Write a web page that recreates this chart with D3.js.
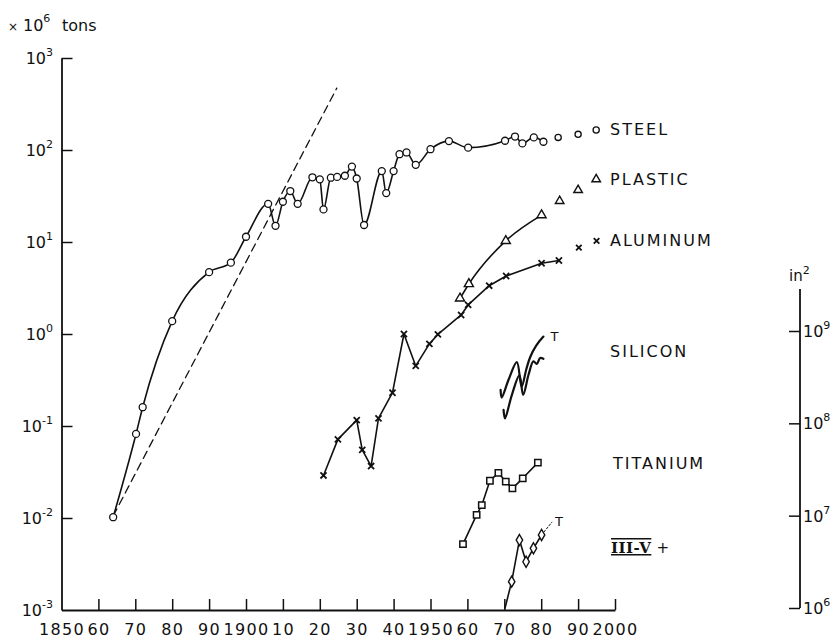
<!DOCTYPE html>
<html><head><meta charset="utf-8">
<script src="https://cdn.jsdelivr.net/npm/d3@7"></script>
<style>
body{margin:0;background:#fff}
svg{display:block;background:#fff}
text{font-family:"DejaVu Sans",sans-serif;fill:#111}
</style>
</head><body>
<svg id="chart" width="839" height="640"></svg>
<script>
// ---------- data ----------
const xTicks = [1850,1860,1870,1880,1890,1900,1910,1920,1930,1940,1950,1960,1970,1980,1990,2000];
const xTickLabels = ["1850","60","70","80","90","1900","10","20","30","40","1950","60","70","80","90","2000"];
const leftTicks = [1e-3,1e-2,1e-1,1e0,1e1,1e2,1e3];
const leftExp = ["-3","-2","-1","0","1","2","3"];
const rightTicks = [1e6,1e7,1e8,1e9];
const rightExp = ["6","7","8","9"];

const steelYears  = [1864,1870.2,1872,1880,1890,1895.9,1900,1906,1908,1910,1912,1914,1918,1920,1921,1923,1924.7,1926.8,1928.7,1930,1932,1936.8,1938,1940,1941.6,1943.5,1946,1950,1955,1960.2,1970.2,1972.9,1974.9,1978,1980.6];
const steelValues = [0.0102,0.082,0.16,1.38,4.7,5.96,11.4,26,15,27.4,35.8,26,50.5,48,22.6,50,51,52.5,66,49,15.3,59,34,59,90,94,69,102,125,106,126,140,118,137,123];
const steelProjYears  = [1984.6,1990,1994.9];
const steelProjValues = [137,148,165];

const plasticYears  = [1958,1960.4,1970.4,1980.1];
const plasticValues = [2.44,3.5,10.3,19.6];
const plasticProjYears  = [1985,1990,1994.9];
const plasticProjValues = [27.9,36.7,48];

const aluminumYears  = [1921,1924.9,1930,1931.5,1933.9,1935.9,1939.7,1942.8,1946,1949.7,1952,1958.3,1960.2,1965.9,1970.5,1980.1,1984.8];
const aluminumValues = [0.029,0.0716,0.116,0.055,0.0367,0.121,0.23,1.0,0.45,0.78,0.99,1.61,2.07,3.35,4.27,5.87,6.3];
const aluminumProjYears  = [1990.2,1995];
const aluminumProjValues = [8.7,10.3];

const titaniumYears  = [1958.8,1962.5,1963.9,1966.1,1968.4,1970.4,1972.2,1975,1979.1];
const titaniumValues = [0.0052,0.0108,0.0138,0.0254,0.031,0.0248,0.021,0.027,0.040];

// silicon and III-V in square inches (right axis)
const siliconTYears  = [1969.0,1969.3,1971.2,1973.4,1974.7,1976.0,1977.0,1978.6,1980.6];
const siliconTValues = [2.3e8,1.9e8,3.0e8,4.6e8,2.5e8,3.9e8,5.2e8,6.9e8,8.7e8];
const siliconYears   = [1969.8,1970.2,1972.0,1974.1,1975.1,1976.6,1977.9,1978.8,1979.7,1980.6];
const siliconValues  = [1.4e8,1.13e8,2.0e8,3.3e8,2.03e8,3.4e8,4.7e8,4.4e8,5.1e8,5.0e8];

const iiivYears  = [1970.2,1972,1974.1,1975.9,1977.9,1980.1];
const iiivValues = [1.0e6,1.93e6,5.44e6,3.17e6,4.43e6,6.18e6];
const iiivMarked = [false,true,true,true,true,true];
const iiivTrendYears  = [1980.1,1982.9];
const iiivTrendValues = [6.18e6,8.5e6];

const trendYears  = [1864,1924.6];
const trendValues = [0.0105,470];

const seriesLabels = ["STEEL","PLASTIC","ALUMINUM","SILICON","TITANIUM"];

// ---------- scales ----------
const svg = d3.select("#chart");
const x  = d3.scaleLinear().domain([1850,2000]).range([61.5,615]);
const yL = d3.scaleLog().domain([1e-3,1e3]).range([610,58]);
const yR = d3.scaleLog().domain([1e6,1e9]).range([608,331]);

const ink = "#111";

// ---------- axes ----------
const gx = svg.append("g").attr("transform","translate(0,610)")
  .call(d3.axisBottom(x).tickValues(xTicks).tickSize(-11).tickSizeOuter(0).tickPadding(14)
        .tickFormat((d,i)=>xTickLabels[i]));
gx.select(".domain").attr("stroke",ink).attr("stroke-width",1.8);
gx.selectAll(".tick line").attr("stroke",ink).attr("stroke-width",1.5);
gx.selectAll(".tick line").filter(d=>d===1850).remove();
gx.selectAll(".tick text").attr("font-size",16).attr("font-family","DejaVu Sans").attr("letter-spacing",1.3)
  .attr("fill",ink).attr("dy","0.71em");

const gl = svg.append("g").attr("transform","translate(61.5,0)")
  .call(d3.axisLeft(yL).tickValues(leftTicks).tickSize(-11).tickSizeOuter(0).tickFormat(""));
gl.select(".domain").attr("stroke",ink).attr("stroke-width",1.8);
gl.selectAll(".tick line").attr("stroke",ink).attr("stroke-width",1.5);
gl.selectAll(".tick line").filter(d=>d===1e-3).remove();

const lt = svg.append("g").selectAll("text").data(leftTicks).join("text")
  .attr("text-anchor","end").attr("x",53).attr("y",d=>yL(d)+5.5).attr("font-size",16);
lt.append("tspan").text("10");
lt.append("tspan").attr("dy",-8).attr("font-size",11).text((d,i)=>leftExp[i]);

const gr = svg.append("g").attr("transform","translate(800,0)")
  .call(d3.axisLeft(yR).tickValues(rightTicks).tickSize(11).tickSizeOuter(0).tickFormat(""));
gr.select(".domain").remove();
gr.selectAll(".tick line").attr("stroke",ink).attr("stroke-width",1.5);
svg.append("line").attr("x1",800).attr("x2",800).attr("y1",yR(1e6)).attr("y2",yR(1e6)-319)
  .attr("stroke",ink).attr("stroke-width",1.8);
const rt = svg.append("g").selectAll("text").data(rightTicks).join("text")
  .attr("x",803).attr("y",d=>yR(d)+6).attr("font-size",16);
rt.append("tspan").text("10");
rt.append("tspan").attr("dy",-8).attr("font-size",11).text((d,i)=>rightExp[i]);

const inl = svg.append("text").attr("x",789).attr("y",281).attr("font-size",15);
inl.append("tspan").text("in");
inl.append("tspan").attr("dy",-7).attr("font-size",11).text("2");

const unit = svg.append("text").attr("x",8).attr("y",31).attr("font-size",16);
unit.append("tspan").attr("font-size",12).text("×");
unit.append("tspan").attr("x",23).text("10");
unit.append("tspan").attr("dy",-9).attr("font-size",11).text("6");
unit.append("tspan").attr("x",62).attr("dy",9).text("tons");

// ---------- helpers ----------
function pts(xs,vs){ return xs.map((d,i)=>[d,vs[i]]); }
function drawLine(data, yS, opts={}){
  const line = d3.line().x(d=>x(d[0])).y(d=>yS(d[1])).curve(opts.curve||d3.curveMonotoneX);
  svg.append("path").datum(data).attr("d",line).attr("fill","none").attr("stroke",ink)
     .attr("stroke-width",opts.w||1.6).attr("stroke-dasharray",opts.dash||null)
     .attr("stroke-linejoin","round").attr("stroke-linecap","round");
}
function drawSymbols(data, yS, type, size, fill, sw){
  svg.append("g").selectAll("path").data(data).join("path")
    .attr("transform",d=>`translate(${x(d[0])},${yS(d[1])})`)
    .attr("d",d3.symbol().type(type).size(size))
    .attr("fill",fill).attr("stroke",ink).attr("stroke-width",sw||1.4);
}

// ---------- marks ----------
drawLine(pts(trendYears,trendValues), yL, {curve:d3.curveLinear, dash:"8,5", w:1.3});

// steel
drawLine(pts(steelYears,steelValues), yL);
svg.append("g").selectAll("circle").data(pts(steelYears,steelValues)).join("circle")
  .attr("cx",d=>x(d[0])).attr("cy",d=>yL(d[1])).attr("r",3.5)
  .attr("fill","#fff").attr("stroke",ink).attr("stroke-width",1.3);
svg.append("g").selectAll("circle").data(pts(steelProjYears,steelProjValues)).join("circle")
  .attr("cx",d=>x(d[0])).attr("cy",d=>yL(d[1])).attr("r",3.1)
  .attr("fill","#fff").attr("stroke",ink).attr("stroke-width",1.3);

// plastic
drawLine(pts(plasticYears,plasticValues), yL);
drawSymbols(pts(plasticYears,plasticValues), yL, d3.symbolTriangle, 36, "#fff");
drawSymbols(pts(plasticProjYears,plasticProjValues), yL, d3.symbolTriangle, 32, "#fff");

// aluminum
drawLine(pts(aluminumYears,aluminumValues), yL, {curve:d3.curveLinear});
drawSymbols(pts(aluminumYears,aluminumValues), yL, d3.symbolX, 26, "none", 1.8);
drawSymbols(pts(aluminumProjYears,aluminumProjValues), yL, d3.symbolX, 22, "none", 1.8);

// silicon
drawLine(pts(siliconTYears,siliconTValues), yR, {curve:d3.curveCatmullRom, w:2.2});
drawLine(pts(siliconYears,siliconValues), yR, {curve:d3.curveCatmullRom, w:2.2});
svg.append("text").attr("x",x(1980.6)+7).attr("y",yR(8.7e8)+4).attr("font-size",13).text("T");

// titanium
drawLine(pts(titaniumYears,titaniumValues), yL, {curve:d3.curveLinear});
drawSymbols(pts(titaniumYears,titaniumValues), yL, d3.symbolSquare, 40, "#fff", 1.5);

// III-V
drawLine(pts(iiivYears,iiivValues), yR, {curve:d3.curveLinear});
drawLine(pts(iiivTrendYears,iiivTrendValues), yR, {curve:d3.curveLinear, dash:"2,2", w:1});
drawSymbols(pts(iiivYears,iiivValues).filter((d,i)=>iiivMarked[i]), yR, d3.symbolDiamond, 36, "#fff");
svg.append("text").attr("x",x(1982.9)+3).attr("y",yR(8.5e6)+4).attr("font-size",13).text("T");

// ---------- series labels ----------
const labelY = [135,185,246,357,469];
svg.append("g").selectAll("text").data(seriesLabels).join("text")
  .attr("x",(d,i)=>i===4?613:610).attr("y",(d,i)=>labelY[i])
  .attr("font-size",16).attr("letter-spacing",2).text(d=>d);
const iv = svg.append("text").attr("x",611).attr("y",553).attr("font-size",15).attr("letter-spacing",0.5);
iv.append("tspan").attr("font-family","DejaVu Serif").attr("font-weight","bold")
  .attr("text-decoration","underline overline").text("III-V");
iv.append("tspan").text(" +");
</script>
</body></html>
